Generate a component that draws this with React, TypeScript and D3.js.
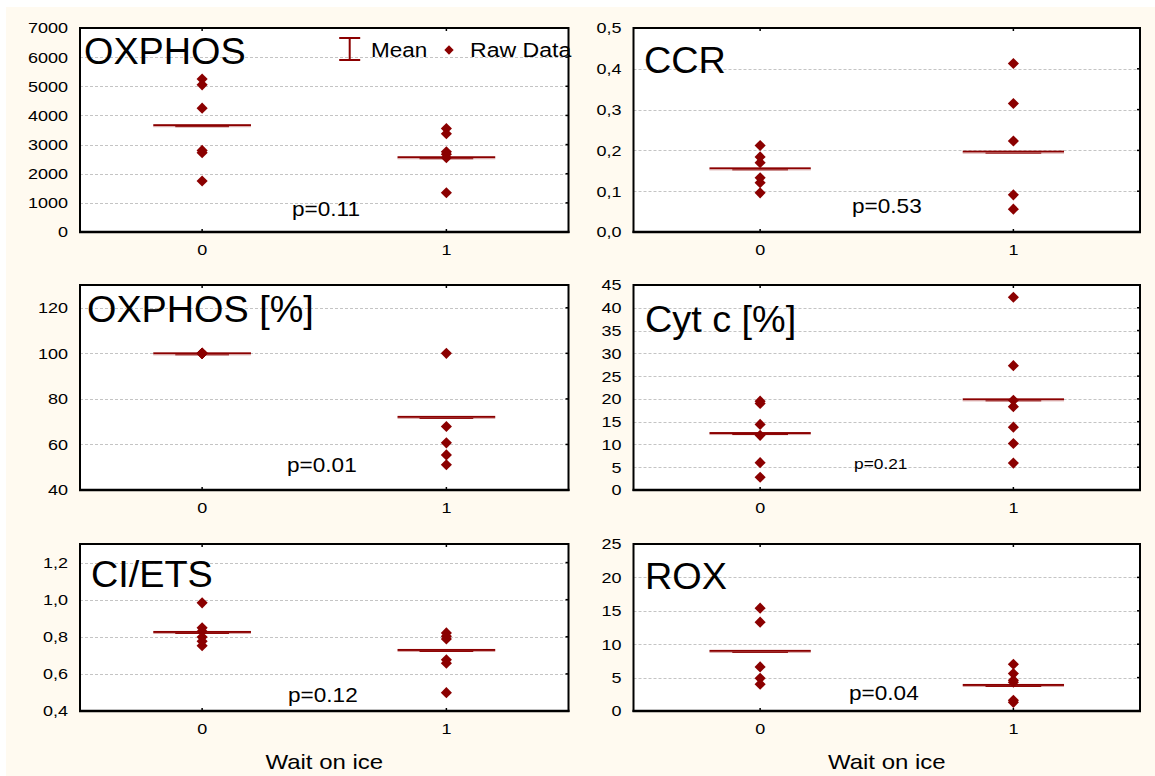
import React from 'react';
import * as d3 from 'd3';

// Groups on the x axis ("Wait on ice")
const GROUPS = ['0', '1'];

// OXPHOS
const OXPHOS_RAW_0 = [5250, 5050, 4250, 2800, 2720, 1750];
const OXPHOS_RAW_1 = [3550, 3370, 2750, 2670, 2550, 1345];
const OXPHOS_MEAN = [3665, 2565];
const OXPHOS_TICKS = [0, 1000, 2000, 3000, 4000, 5000, 6000, 7000];

// CCR
const CCR_RAW_0 = [0.212, 0.184, 0.17, 0.133, 0.121, 0.096];
const CCR_RAW_1 = [0.413, 0.315, 0.223, 0.091, 0.056];
const CCR_MEAN = [0.156, 0.197];
const CCR_TICKS = [0, 0.1, 0.2, 0.3, 0.4, 0.5];

// OXPHOS [%]
const OXPHOS_PCT_RAW_0 = [100, 100, 100, 100, 100, 100];
const OXPHOS_PCT_RAW_1 = [100, 67.9, 60.7, 55.4, 51.1];
const OXPHOS_PCT_MEAN = [100, 72.1];
const OXPHOS_PCT_TICKS = [40, 60, 80, 100, 120];

// Cyt c [%]
const CYTC_RAW_0 = [19.5, 19.0, 14.4, 12.0, 6.0, 2.8];
const CYTC_RAW_1 = [42.3, 27.3, 19.7, 18.3, 13.8, 10.2, 5.9];
const CYTC_MEAN = [12.5, 19.9];
const CYTC_TICKS = [0, 5, 10, 15, 20, 25, 30, 35, 40, 45];

// CI/ETS
const CIETS_RAW_0 = [0.983, 0.848, 0.83, 0.799, 0.776, 0.752];
const CIETS_RAW_1 = [0.821, 0.803, 0.788, 0.676, 0.658, 0.499];
const CIETS_MEAN = [0.826, 0.729];
const CIETS_TICKS = [0.4, 0.6, 0.8, 1.0, 1.2];

// ROX
const ROX_RAW_0 = [15.4, 13.3, 6.6, 4.9, 4.0];
const ROX_RAW_1 = [7.0, 5.6, 4.6, 4.3, 1.6, 1.3];
const ROX_MEAN = [9.0, 3.9];
const ROX_TICKS = [0, 5, 10, 15, 20, 25];

const TITLES = ['OXPHOS', 'CCR', 'OXPHOS [%]', 'Cyt c [%]', 'CI/ETS', 'ROX'];
const P_VALUES = ['p=0.11', 'p=0.53', 'p=0.01', 'p=0.21', 'p=0.12', 'p=0.04'];
const X_TITLE = 'Wait on ice';
const LEGEND_LABELS = ['Mean', 'Raw Data'];

const PANELS = [
  { raw: [OXPHOS_RAW_0, OXPHOS_RAW_1], mean: OXPHOS_MEAN, domain: [0, 7000], ticks: OXPHOS_TICKS, decimals: 0 },
  { raw: [CCR_RAW_0, CCR_RAW_1], mean: CCR_MEAN, domain: [0, 0.5], ticks: CCR_TICKS, decimals: 1 },
  { raw: [OXPHOS_PCT_RAW_0, OXPHOS_PCT_RAW_1], mean: OXPHOS_PCT_MEAN, domain: [40, 130], ticks: OXPHOS_PCT_TICKS, decimals: 0 },
  { raw: [CYTC_RAW_0, CYTC_RAW_1], mean: CYTC_MEAN, domain: [0, 45], ticks: CYTC_TICKS, decimals: 0 },
  { raw: [CIETS_RAW_0, CIETS_RAW_1], mean: CIETS_MEAN, domain: [0.4, 1.3], ticks: CIETS_TICKS, decimals: 1 },
  { raw: [ROX_RAW_0, ROX_RAW_1], mean: ROX_MEAN, domain: [0, 25], ticks: ROX_TICKS, decimals: 0 },
];

// Layout of the 2x3 grid of frames
const COLS = [
  { x0: 80, x1: 568.5 },
  { x0: 633.5, x1: 1140 },
];
const ROWS = [
  { y0: 28, y1: 232 },
  { y0: 285, y1: 490 },
  { y0: 544, y1: 711 },
];
const TITLE_POS = [
  [84, 64],
  [644, 73],
  [87, 322],
  [645, 332],
  [91, 587],
  [645, 589],
];
const P_POS = [
  [292, 216, 20],
  [852, 213, 20],
  [287, 472, 20],
  [854, 469, 14],
  [288, 702, 20],
  [849, 700, 20],
];

const FONT = '"Liberation Sans", Arial, Helvetica, sans-serif';
const RED = '#8b0000';
const CREAM = '#fffaf0';

function SText({ x, y, size, sx = 1, anchor = 'start', children }: any) {
  return (
    <text
      transform={`translate(${x},${y}) scale(${sx},1)`}
      fontSize={size}
      fontFamily={FONT}
      textAnchor={anchor}
      fill="#000"
    >
      {children}
    </text>
  );
}

const diamond = d3.symbol().type(d3.symbolSquare).size(62)();

function MeanLine({ cx, cy, hw }: any) {
  const inner = hw * 0.55;
  return (
    <g>
      <rect x={cx - hw} y={cy - 1} width={hw * 2} height={2} fill={RED} />
      <rect x={cx - hw} y={cy + 1} width={hw * 2} height={1} fill="#d8a6a6" />
      <rect x={cx - inner} y={cy + 1} width={inner * 2} height={1} fill={RED} />
    </g>
  );
}

function Panel({ index }: any) {
  const p = PANELS[index];
  const col = COLS[index % 2];
  const row = ROWS[Math.floor(index / 2)];
  const x = d3.scaleBand().domain(GROUPS).range([col.x0, col.x1]).padding(0);
  const y = d3.scaleLinear().domain(p.domain).range([row.y1, row.y0]);
  const cx = (g: string) => (x(g) as number) + x.bandwidth() / 2;
  const fmt = (v: number) => d3.format(`.${p.decimals}f`)(v).replace('.', ',');
  const hw = x.bandwidth() * 0.2;

  return (
    <g>
      <rect x={col.x0} y={row.y0} width={col.x1 - col.x0} height={row.y1 - row.y0} fill="#fff" />
      {p.ticks.map((t) => (
        <line
          key={`g${t}`}
          x1={col.x0}
          x2={col.x1}
          y1={Math.round(y(t)) + 0.5}
          y2={Math.round(y(t)) + 0.5}
          stroke="#c4c4c4"
          strokeDasharray="3,2"
          strokeWidth={1}
        />
      ))}
      {p.ticks.map((t) => (
        <line key={`rt${t}`} x1={col.x1 - 3} x2={col.x1} y1={y(t)} y2={y(t)} stroke="#000" strokeWidth={1.5} />
      ))}
      {GROUPS.map((g) => (
        <g key={`ct${g}`}>
          <line x1={cx(g)} x2={cx(g)} y1={row.y0} y2={row.y0 + 3} stroke="#000" strokeWidth={1.5} />
          <line x1={cx(g)} x2={cx(g)} y1={row.y1} y2={row.y1 - 3} stroke="#000" strokeWidth={1.5} />
        </g>
      ))}
      {/* frame */}
      <rect
        x={col.x0}
        y={row.y0}
        width={col.x1 - col.x0}
        height={row.y1 - row.y0}
        fill="none"
        stroke="#000"
        strokeWidth={2}
      />
      <line x1={col.x0 - 1} x2={col.x1 + 1} y1={row.y1} y2={row.y1} stroke="#000" strokeWidth={2.6} />

      {/* y tick labels */}
      {p.ticks.map((t) => (
        <SText key={`yl${t}`} x={col.x0 - 12} y={y(t) + 5.4} size={15} sx={1.2} anchor="end">
          {fmt(t)}
        </SText>
      ))}
      {/* x tick labels */}
      {GROUPS.map((g) => (
        <SText key={`xl${g}`} x={cx(g)} y={row.y1 + 23} size={15} sx={1.2} anchor="middle">
          {g}
        </SText>
      ))}

      {/* means */}
      {GROUPS.map((g, gi) => (
        <MeanLine key={`m${g}`} cx={cx(g)} cy={y(p.mean[gi])} hw={hw} />
      ))}
      {/* raw data */}
      {GROUPS.map((g, gi) =>
        p.raw[gi].map((v, i) => (
          <path
            key={`d${g}-${i}`}
            d={diamond as string}
            transform={`translate(${cx(g)},${y(v)}) rotate(45)`}
            fill={RED}
          />
        ))
      )}

      <SText x={TITLE_POS[index][0]} y={TITLE_POS[index][1]} size={36} sx={1.05}>
        {TITLES[index]}
      </SText>
      <SText x={P_POS[index][0]} y={P_POS[index][1]} size={P_POS[index][2]} sx={P_POS[index][2] < 18 ? 1.24 : 1.13}>
        {P_VALUES[index]}
      </SText>
    </g>
  );
}

function Legend() {
  const lx = 349.7;
  return (
    <g>
      <line x1={lx} x2={lx} y1={38} y2={60} stroke={RED} strokeWidth={2} />
      <line x1={lx - 10.5} x2={lx + 10.5} y1={38} y2={38} stroke={RED} strokeWidth={2} />
      <line x1={lx - 10.5} x2={lx + 10.5} y1={60} y2={60} stroke={RED} strokeWidth={2} />
      <SText x={371} y={56.7} size={21} sx={1.07}>
        {LEGEND_LABELS[0]}
      </SText>
      <path d={d3.symbol().type(d3.symbolSquare).size(44)() as string} transform="translate(449,50) rotate(45)" fill={RED} />
      <SText x={470} y={56.7} size={21} sx={1.1}>
        {LEGEND_LABELS[1]}
      </SText>
    </g>
  );
}

export default function App() {
  const W = 1155;
  const H = 776;
  return (
    <svg
      width={W}
      height={H}
      viewBox={`0 0 ${W} ${H}`}
      style={{ position: 'absolute', left: 0, top: 0, display: 'block' }}
    >
      <rect x={0} y={0} width={W} height={H} fill="#fff" />
      <rect x={6} y={7} width={W - 6} height={H - 7} fill={CREAM} />
      {PANELS.map((_, i) => (
        <Panel key={i} index={i} />
      ))}
      <Legend />
      {COLS.map((c, i) => (
        <SText key={`xt${i}`} x={(c.x0 + c.x1) / 2} y={769} size={20} sx={1.2} anchor="middle">
          {X_TITLE}
        </SText>
      ))}
    </svg>
  );
}
